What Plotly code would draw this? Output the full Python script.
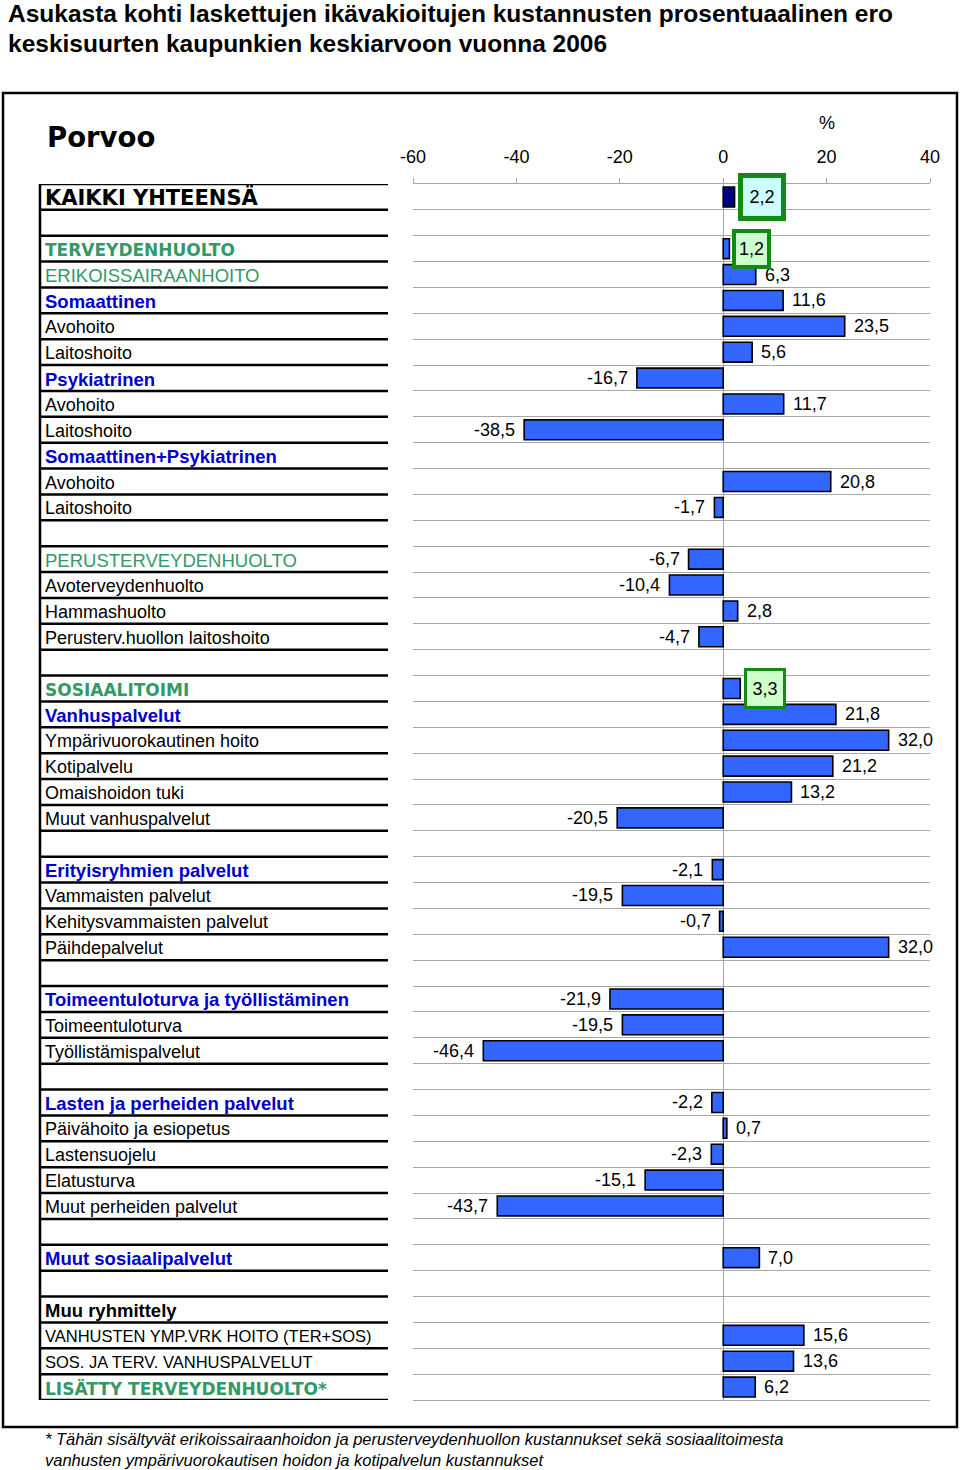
import plotly.graph_objects as go

# ---------------- data ----------------
labels = [
    "KAIKKI YHTEENSÄ", "",
    "TERVEYDENHUOLTO", "ERIKOISSAIRAANHOITO", "Somaattinen", "Avohoito", "Laitoshoito",
    "Psykiatrinen", "Avohoito", "Laitoshoito", "Somaattinen+Psykiatrinen", "Avohoito", "Laitoshoito",
    "",
    "PERUSTERVEYDENHUOLTO", "Avoterveydenhuolto", "Hammashuolto", "Perusterv.huollon laitoshoito",
    "",
    "SOSIAALITOIMI", "Vanhuspalvelut", "Ympärivuorokautinen hoito", "Kotipalvelu", "Omaishoidon tuki",
    "Muut vanhuspalvelut",
    "",
    "Erityisryhmien palvelut", "Vammaisten palvelut", "Kehitysvammaisten palvelut", "Päihdepalvelut",
    "",
    "Toimeentuloturva ja työllistäminen", "Toimeentuloturva", "Työllistämispalvelut",
    "",
    "Lasten ja perheiden palvelut", "Päivähoito ja esiopetus", "Lastensuojelu", "Elatusturva",
    "Muut perheiden palvelut",
    "",
    "Muut sosiaalipalvelut",
    "",
    "Muu ryhmittely", "VANHUSTEN YMP.VRK HOITO (TER+SOS)", "SOS. JA TERV. VANHUSPALVELUT",
    "LISÄTTY TERVEYDENHUOLTO*",
]

values = [
    2.2, None,
    1.2, 6.3, 11.6, 23.5, 5.6,
    -16.7, 11.7, -38.5, None, 20.8, -1.7,
    None,
    -6.7, -10.4, 2.8, -4.7,
    None,
    3.3, 21.8, 32.0, 21.2, 13.2,
    -20.5,
    None,
    -2.1, -19.5, -0.7, 32.0,
    None,
    -21.9, -19.5, -46.4,
    None,
    -2.2, 0.7, -2.3, -15.1,
    -43.7,
    None,
    7.0,
    None,
    None, 15.6, 13.6,
    6.2,
]

# hierarchy level of each row
levels = [
    "total", "blank",
    "sector", "subsector", "group", "item", "item",
    "group", "item", "item", "group", "item", "item",
    "blank",
    "subsector", "item", "item", "item",
    "blank",
    "sector", "group", "item", "item", "item",
    "item",
    "blank",
    "group", "item", "item", "item",
    "blank",
    "group", "item", "item",
    "blank",
    "group", "item", "item", "item",
    "item",
    "blank",
    "group",
    "blank",
    "otherhead", "otheritem", "otheritem",
    "sector",
]

highlighted = [0, 2, 19]  # rows whose value is boxed

x_ticks = [-60, -40, -20, 0, 20, 40]

title_lines = [
    "Asukasta kohti laskettujen ikävakioitujen kustannusten prosentuaalinen ero",
    "keskisuurten kaupunkien keskiarvoon vuonna 2006",
]
city = "Porvoo"
unit = "%"
footnote = [
    "* Tähän sisältyvät erikoissairaanhoidon ja perusterveydenhuollon kustannukset sekä sosiaalitoimesta",
    "vanhusten ympärivuorokautisen hoidon ja kotipalvelun kustannukset",
]

# ---------------- layout helpers ----------------
W, H = 960, 1470
def px(x):
    return x / W
def py(y):
    return 1 - y / H

n = len(labels)
rows = list(range(n))
TOP, BOT = 184, 1400
XL, XR = 413, 930

GREEN = "#339966"
BLUE = "#0000CC"
GRID = "#a6a6a6"
BAR = "#3366FF"
NAVY = "#000080"

REG = "Liberation Sans, Arial, sans-serif"
HEAVY = "DejaVu Sans, sans-serif"

label_fonts = {
    "total": dict(family=HEAVY, size=21, color="black", weight="bold"),
    "sector": dict(family=HEAVY, size=17, color=GREEN, weight="bold"),
    "subsector": dict(family=REG, size=18.5, color=GREEN),
    "group": dict(family=REG, size=18.5, color=BLUE, weight="bold"),
    "item": dict(family=REG, size=18, color="black"),
    "otherhead": dict(family=REG, size=18.5, color="black", weight="bold"),
    "otheritem": dict(family=REG, size=16.5, color="black"),
    "blank": dict(family=REG, size=18, color="black"),
}

bar_colors = [NAVY if lv == "total" else BAR for lv in levels]

fig = go.Figure()
fig.add_trace(go.Bar(
    x=values, y=rows, orientation="h", width=0.77,
    marker=dict(color=bar_colors, line=dict(color="black", width=1.6)),
    hoverinfo="skip",
))

annotations = []
# value labels
for i, v in enumerate(values):
    if v is None or i in highlighted:
        continue
    txt = f"{v:.1f}".replace(".", ",")
    annotations.append(dict(
        x=v, y=i, xref="x", yref="y", text=txt, showarrow=False,
        xanchor="left" if v >= 0 else "right", xshift=7 if v >= 0 else -7,
        yanchor="middle",
        font=dict(family=REG, size=18, color="black"),
    ))

# highlighted boxes
box_styles = {
    0: dict(bgcolor="#CCFFFF", borderwidth=5, width=34, height=34, xshift=3),
    2: dict(bgcolor="#CCFFCC", borderwidth=4, width=27, height=28, xshift=3),
    19: dict(bgcolor="#CCFFCC", borderwidth=3, width=32, height=31, xshift=4),
}
for i in highlighted:
    v = values[i]
    st = box_styles[i]
    annotations.append(dict(
        x=v, y=i, xref="x", yref="y", text=f"{v:.1f}".replace(".", ","), showarrow=False,
        xanchor="left", yanchor="middle", xshift=st["xshift"],
        bgcolor=st["bgcolor"], bordercolor="#138A13", borderwidth=st["borderwidth"],
        borderpad=2, width=st["width"], height=st["height"],
        font=dict(family=REG, size=18, color="black"),
    ))

# row labels
for i, (lab, lv) in enumerate(zip(labels, levels)):
    if not lab:
        continue
    annotations.append(dict(
        x=px(43), y=i, xref="paper", yref="y", text=lab, showarrow=False,
        xanchor="left", yanchor="middle", yshift=-1,
        font=label_fonts[lv],
    ))

# titles and texts
for t, yy in zip(title_lines, [13, 44]):
    annotations.append(dict(
        x=px(6), y=py(yy), xref="paper", yref="paper", text=t, showarrow=False,
        xanchor="left", yanchor="middle",
        font=dict(family=REG, size=24.5, color="black", weight="bold"),
    ))
annotations.append(dict(
    x=px(45), y=py(137), xref="paper", yref="paper", text=city, showarrow=False,
    xanchor="left", yanchor="middle",
    font=dict(family=HEAVY, size=27.5, color="black", weight="bold"),
))
annotations.append(dict(
    x=px(827), y=py(123), xref="paper", yref="paper", text=unit, showarrow=False,
    xanchor="center", yanchor="middle",
    font=dict(family=REG, size=18, color="black"),
))
for t, yy in zip(footnote, [1439, 1460]):
    annotations.append(dict(
        x=px(43), y=py(yy), xref="paper", yref="paper", text=t, showarrow=False,
        xanchor="left", yanchor="middle",
        font=dict(family=REG, size=16.5, color="black", style="italic"),
    ))

shapes = []
# outer frame
shapes.append(dict(type="rect", xref="paper", yref="paper",
                   x0=px(3), x1=px(957), y0=py(1427), y1=py(93),
                   line=dict(color="black", width=2.5)))
# label table lines
for k in range(n + 1):
    shapes.append(dict(type="line", xref="paper", yref="y",
                       x0=px(40), x1=px(388), y0=k - 0.5, y1=k - 0.5,
                       line=dict(color="black", width=2.5)))
shapes.append(dict(type="line", xref="paper", yref="y",
                   x0=px(40), x1=px(40), y0=-0.5, y1=n - 0.5,
                   line=dict(color="black", width=2.5)))

fig.update_layout(
    template="none",
    width=W, height=H, autosize=False,
    margin=dict(l=0, r=0, t=0, b=0, pad=0, autoexpand=False),
    paper_bgcolor="white", plot_bgcolor="white",
    showlegend=False,
    annotations=annotations,
    shapes=shapes,
    xaxis=dict(
        domain=[px(XL), px(XR)], range=[-60, 40], side="top", automargin=False,
        tickvals=x_ticks, ticktext=[str(t) for t in x_ticks],
        ticks="outside", ticklen=5, tickcolor=GRID, tickwidth=1, ticklabelstandoff=8,
        tickfont=dict(family=REG, size=18, color="black"),
        showgrid=False, zeroline=True, zerolinecolor=GRID, zerolinewidth=1,
        showline=True, linecolor=GRID, linewidth=1, mirror=True,
        fixedrange=True,
    ),
    yaxis=dict(
        domain=[py(BOT), py(TOP)], range=[n - 0.5, -0.5], automargin=False,
        tickvals=[k - 0.5 for k in range(n + 1)], showticklabels=False, ticks="",
        showgrid=True, gridcolor=GRID, gridwidth=1, zeroline=False, showline=False,
        fixedrange=True,
    ),
)

fig.write_html(
    "out.html",
    config={"displayModeBar": False, "staticPlot": False},
    post_script="document.body.style.margin='0';document.body.style.overflow='hidden';",
)
